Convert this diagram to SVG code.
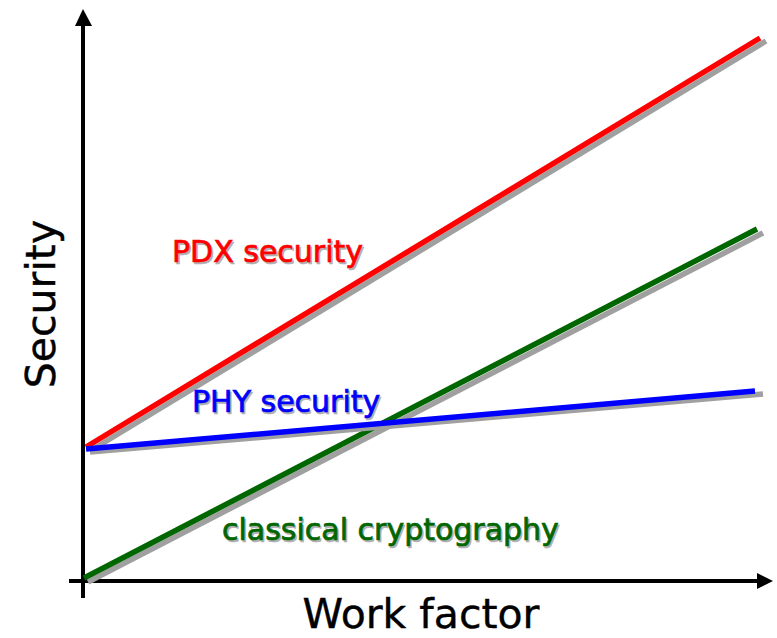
<svg xmlns="http://www.w3.org/2000/svg" width="777" height="638" viewBox="0 0 777 638">
<defs>
<style>
.sh{stroke:#a0a0a0;stroke-width:5.5;fill:none}
.ln{stroke-width:5.5;fill:none}
.ax{stroke:#000;stroke-width:4;fill:none}
.lbl{font-family:"DejaVu Sans",Verdana,sans-serif;font-size:30px;stroke-width:0.7}
.tsh{fill:#b0b0b0;stroke:#b0b0b0}
.axl{font-family:"DejaVu Sans",Verdana,sans-serif;font-size:41px;fill:#000;stroke:#000;stroke-width:0.4}
</style>
</defs>
<rect width="777" height="638" fill="#fff"/>
<g id="connectors">
<g id="axes">
<line class="ax" x1="83" y1="598" x2="83" y2="22"/>
<polygon points="83,9 75,26 92,26" fill="#000"/>
<line class="ax" x1="69" y1="581" x2="760" y2="581"/>
<polygon points="773,581 757,573 757,589" fill="#000"/>
</g>
<g id="red-line">
<line class="sh" x1="90" y1="451" x2="766" y2="41"/>
<line class="ln" stroke="#ff0000" x1="86" y1="447" x2="760" y2="38"/>
</g>
<g id="green-line">
<line class="sh" x1="88" y1="582" x2="763" y2="233"/>
<line class="ln" stroke="#006600" x1="84" y1="578" x2="757" y2="229"/>
</g>
<g id="blue-line">
<line class="sh" x1="90" y1="452" x2="763" y2="394"/>
<line class="ln" stroke="#0000ff" x1="86" y1="449" x2="755" y2="391"/>
</g>
</g>
<g id="pdx-label">
<text class="lbl tsh" x="173.5" y="263.5">PDX security</text>
<text class="lbl" fill="#ff0000" stroke="#ff0000" x="172" y="262">PDX security</text>
</g>
<g id="phy-label">
<text class="lbl tsh" x="193.5" y="413.5">PHY security</text>
<text class="lbl" fill="#0000ff" stroke="#0000ff" x="192" y="412">PHY security</text>
</g>
<g id="classical-label">
<text class="lbl tsh" x="223.5" y="541.5">classical cryptography</text>
<text class="lbl" fill="#006600" stroke="#006600" x="222" y="540">classical cryptography</text>
</g>
<g id="y-label">
<text class="axl" transform="translate(55,304) rotate(-90)" text-anchor="middle">Security</text>
</g>
<g id="x-label">
<text class="axl" x="421" y="628" text-anchor="middle">Work factor</text>
</g>
</svg>
